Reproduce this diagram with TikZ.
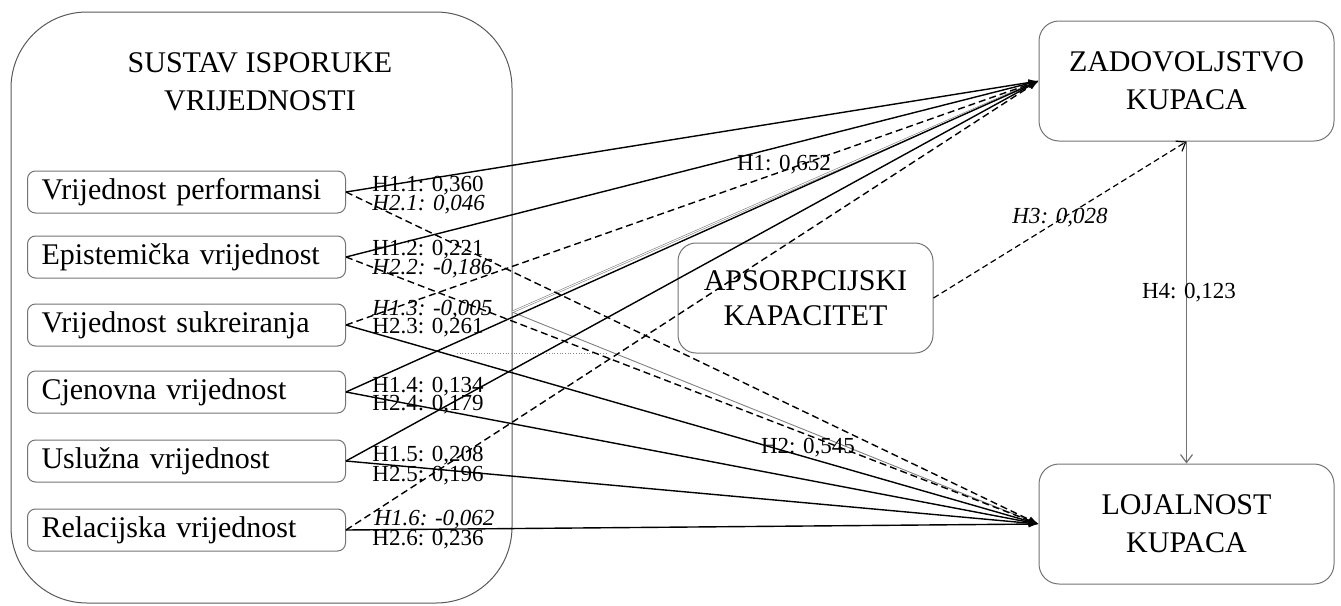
\documentclass[tikz,border=0pt]{standalone}
\usepackage{fontspec}
\setmainfont{Liberation Serif}
\usetikzlibrary{arrows.meta}
\begin{document}
\begin{tikzpicture}[x=0.5pt,y=-0.5pt,
  every node/.style={font=\fontsize{15}{17.5}\selectfont},
  valbox/.style={draw=black!55, line width=0.5pt, rounded corners=4pt, anchor=west,
    text width=145pt, inner xsep=7pt, inner ysep=0pt, minimum height=21pt, align=left},
  bigbox/.style={draw=black!65, line width=0.5pt, rounded corners=38pt, inner sep=0pt},
  outbox/.style={draw=black!55, line width=0.5pt, rounded corners=10pt, inner sep=0pt,
    minimum width=147.5pt, minimum height=60pt, align=center},
  sig/.style={line width=0.7pt, -{Latex[length=5pt,width=3.5pt]}},
  ns/.style={sig, dash pattern=on 3.5pt off 2pt},
  lab/.style={font=\fontsize{11.5}{12}\selectfont, inner sep=0pt, anchor=west},
  ilab/.style={lab, font=\fontsize{11.5}{12}\selectfont\itshape},
  openarrow/.style={-{Straight Barb[length=4pt,width=6pt]}}
]
\useasboundingbox (0,0) rectangle (1341,606);

% big system box
\node[bigbox, minimum width=250.5pt, minimum height=295.5pt] (sys) at (261.5,307.5) {};
\node[align=center] (systitle) at (260,82) {SUSTAV ISPORUKE\\[1.5pt]VRIJEDNOSTI};

% value boxes
\node[valbox] (b1) at (27,192) {Vrijednost performansi};
\node[valbox] (b2) at (27,257) {Epistemička vrijednost};
\node[valbox] (b3) at (27,325) {Vrijednost sukreiranja};
\node[valbox] (b4) at (27,392) {Cjenovna vrijednost};
\node[valbox] (b5) at (27,461) {Uslužna vrijednost};
\node[valbox] (b6) at (27,530) {Relacijska vrijednost};

% outcome boxes
\node[outbox] (z) at (1186.5,81) {ZADOVOLJSTVO\\[1.5pt]KUPACA};
\node[outbox] (l) at (1186.5,524) {LOJALNOST\\[1.5pt]KUPACA};
\node[outbox, minimum width=127.5pt, minimum height=55pt, rounded corners=9pt] (a) at (805.5,298) {APSORPCIJSKI\\KAPACITET};

% faint dotted line
\coordinate (d1) at (457,353);
\coordinate (d2) at (607,353);
\draw[black!45, line width=0.35pt, densely dotted] (d1) -- (d2);

% total-effect grey lines
\coordinate (g) at (512,312);
\draw[black!50, line width=0.3pt, double=white, double distance=0.5pt] (g) -- (z.west);
\draw[black!50, line width=0.45pt] (g) -- (l.west);

% paths to satisfaction
\draw[sig] (b1.east) -- (z.west);
\draw[sig] (b2.east) -- (z.west);
\draw[ns]  (b3.east) -- (z.west);
\draw[sig] (b4.east) -- (z.west);
\draw[sig] (b5.east) -- (z.west);
\draw[ns]  (b6.east) -- (z.west);

% paths to loyalty
\draw[ns]  (b1.east) -- (l.west);
\draw[ns]  (b2.east) -- (l.west);
\draw[sig] (b3.east) -- (l.west);
\draw[sig] (b4.east) -- (l.west);
\draw[sig] (b5.east) -- (l.west);
\draw[sig] (b6.east) -- (l.west);

% H3, H4
\draw[line width=0.6pt, dash pattern=on 3pt off 1.8pt, openarrow] (a.east) -- (z.south);
\draw[black!55, line width=0.6pt, openarrow] (z.south) -- (l.north);

% labels
\node[lab]  (h11) at (372,186) {H1.1: 0,360};
\node[ilab] (h21) at (372,205) {H2.1: 0,046};
\node[lab]  (h12) at (372,250) {H1.2: 0,221};
\node[ilab] (h22) at (372,269) {H2.2: -0,186};
\node[ilab] (h13) at (372,310) {H1.3: -0,005};
\node[lab]  (h23) at (372,328) {H2.3: 0,261};
\node[lab]  (h14) at (372,387) {H1.4: 0,134};
\node[lab]  (h24) at (372,405) {H2.4: 0,179};
\node[lab]  (h15) at (372,456) {H1.5: 0,208};
\node[lab]  (h25) at (372,476) {H2.5: 0,196};
\node[ilab] (h16) at (374,520) {H1.6: -0,062};
\node[lab]  (h26) at (372,540) {H2.6: 0,236};

\node[lab, anchor=center] (h1) at (784,165) {H1: 0,652};
\node[lab, anchor=center] (h2) at (808,448) {H2: 0,545};
\node[ilab, anchor=center] (h3) at (1060,218) {H3: 0,028};
\node[lab, anchor=center] (h4) at (1189,293) {H4: 0,123};
\end{tikzpicture}
\end{document}
